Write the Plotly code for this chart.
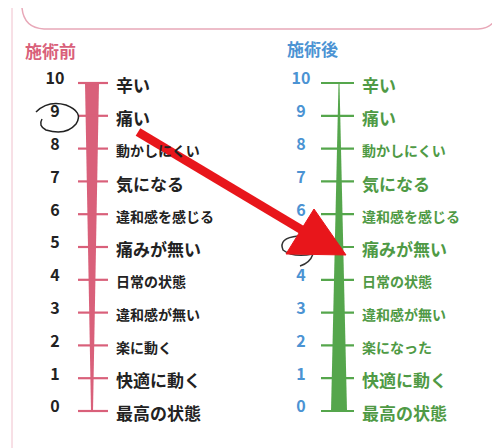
import plotly.graph_objects as go

scores = [10, 9, 8, 7, 6, 5, 4, 3, 2, 1, 0]
before_labels = ["辛い", "痛い", "動かしにくい", "気になる", "違和感を感じる", "痛みが無い",
                 "日常の状態", "違和感が無い", "楽に動く", "快適に動く", "最高の状態"]
after_labels = ["辛い", "痛い", "動かしにくい", "気になる", "違和感を感じる", "痛みが無い",
                "日常の状態", "違和感が無い", "楽になった", "快適に動く", "最高の状態"]
big_labels = {"辛い", "痛い", "気になる", "痛みが無い", "快適に動く", "最高の状態"}

PINK = "#d9607a"
GREEN = "#55a64c"
DGREEN = "#4f9a45"
BLUE = "#4b93d3"
FONT = "Noto Sans CJK JP"

W, H = 500, 448
# y: score 10 at pixel 75, score 0 at pixel 403
PX = (403 - 75) / 10.0
y_top = 10 + 75 / PX
y_bot = 0 - (H - 403) / PX


def px(x, y):
    return x / W, 1 - y / H


fig = go.Figure()


def scale(cx, tick_l, tick_r, num_x, lab_x, bar_top_w, bar_bot_w, col, numcol, labcol, labels):
    # tapered bar
    fig.add_trace(go.Scatter(
        x=[cx - bar_top_w / 2, cx + bar_top_w / 2, cx + bar_bot_w / 2, cx - bar_bot_w / 2],
        y=[scores[0], scores[0], scores[-1], scores[-1]],
        fill="toself", fillcolor=col, line=dict(width=0), mode="lines",
        hoverinfo="skip", showlegend=False))
    # ticks
    for s in scores:
        fig.add_trace(go.Scatter(x=[tick_l, tick_r], y=[s, s], mode="lines",
                                 line=dict(color=col, width=2.2),
                                 hoverinfo="skip", showlegend=False))
    # numbers as a text trace so the arrow shapes sit on top of them
    fig.add_trace(go.Scatter(x=[num_x] * len(scores), y=[s + 0.08 for s in scores],
                             mode="text", text=["<b>%d</b>" % s for s in scores],
                             textfont=dict(family=FONT, size=16, color=numcol),
                             hoverinfo="skip", showlegend=False))
    for s, lab in zip(scores, labels):
        size = 17 if lab in big_labels else 14
        fig.add_annotation(x=lab_x, y=s - 0.05, text="<b>%s</b>" % lab, showarrow=False,
                           xanchor="left", font=dict(family=FONT, size=size, color=labcol))


scale(84, 70, 100, 47, 106, 14, 2, PINK, "#222", "#222", before_labels)
scale(331, 313, 346, 293, 352, 1, 16, GREEN, BLUE, DGREEN, after_labels)

# titles
fig.add_annotation(x=15, y=10 + (75 - 42) / PX, text="<b>施術前</b>", showarrow=False,
                   xanchor="left", font=dict(family=FONT, size=17, color=PINK))
fig.add_annotation(x=277, y=10 + (75 - 40) / PX, text="<b>施術後</b>", showarrow=False,
                   xanchor="left", font=dict(family=FONT, size=17, color=BLUE))

shapes = []
# frame
shapes.append(dict(type="path", xref="paper", yref="paper",
                   path="M %f %f Q %f %f %f %f L %f %f Q %f %f %f %f" % (
                       *px(14, 0), *px(16, 20), *px(36, 21), *px(470, 21), *px(488, 20), *px(490, 2)),
                   line=dict(color="#e8a8b8", width=1.5)))
shapes.append(dict(type="line", xref="paper", yref="paper", x0=px(4, 0)[0], x1=px(4, 0)[0],
                   y0=0, y1=1, line=dict(color="#f0c0cc", width=1)))
shapes.append(dict(type="line", xref="paper", yref="paper", x0=px(494, 0)[0], x1=px(494, 0)[0],
                   y0=0, y1=1, line=dict(color="#f0c0cc", width=1)))
# hand-drawn marks
shapes.append(dict(type="path", xref="paper", yref="paper",
                   path="M %f %f Q %f %f %f %f Q %f %f %f %f Q %f %f %f %f Q %f %f %f %f" % (
                       *px(28, 104), *px(40, 92), *px(58, 97), *px(76, 104), *px(68, 116),
                       *px(58, 128), *px(38, 122), *px(30, 118), *px(34, 111)),
                   line=dict(color="#222", width=1.5)))
shapes.append(dict(type="path", xref="paper", yref="paper",
                   path="M %f %f Q %f %f %f %f Q %f %f %f %f Q %f %f %f %f" % (
                       *px(290, 228), *px(270, 230), *px(275, 242), *px(285, 250), *px(305, 246),
                       *px(302, 255), *px(292, 258)),
                   line=dict(color="#333", width=1.5)))
# red arrow
shapes.append(dict(type="line", xref="paper", yref="paper",
                   x0=px(130, 124)[0], y0=px(130, 124)[1], x1=px(294, 222)[0], y1=px(294, 222)[1],
                   line=dict(color="#e8161b", width=9)))
shapes.append(dict(type="path", xref="paper", yref="paper",
                   path="M %f %f L %f %f L %f %f Z" % (*px(306, 201), *px(278, 246), *px(338, 247)),
                   fillcolor="#e8161b", line=dict(color="#e8161b", width=1)))

fig.update_layout(
    width=W, height=H, margin=dict(l=0, r=0, t=0, b=0),
    paper_bgcolor="white", plot_bgcolor="white", shapes=shapes,
    xaxis=dict(range=[0, W], visible=False, fixedrange=True),
    yaxis=dict(range=[y_bot, y_top], visible=False, fixedrange=True),
)
fig.write_html("out.html")
